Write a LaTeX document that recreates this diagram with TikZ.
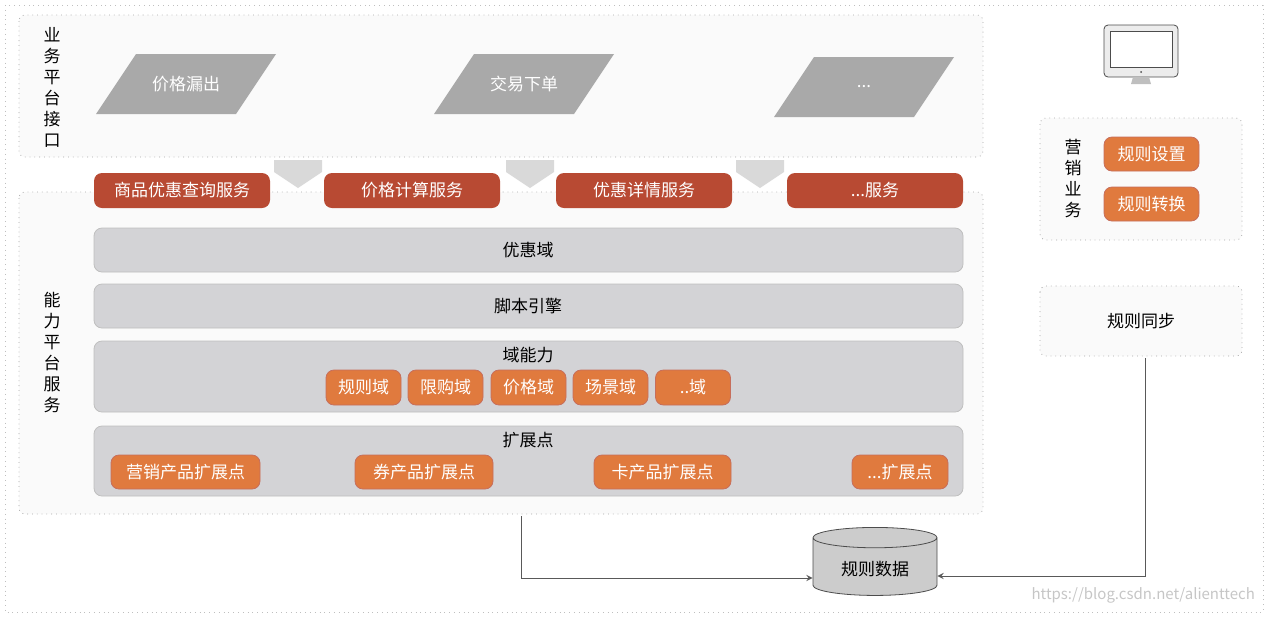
\documentclass[tikz,border=0pt]{standalone}
\usepackage{fontspec}
\setmainfont{Noto Sans CJK SC}
\usetikzlibrary{shapes.geometric, positioning}
\definecolor{svcred}{HTML}{B84A33}
\definecolor{extorg}{HTML}{E07A3E}
\definecolor{bargray}{HTML}{D3D3D6}
\definecolor{parag}{HTML}{A9A9A9}
\tikzset{
  zone/.style={draw=gray!70, dotted, rounded corners=3pt, fill=gray!4},
  svc/.style={fill=svcred, rounded corners=4pt, text=white, font=\fontsize{8.5}{10}\selectfont},
  ext/.style={fill=extorg, draw=svcred!80, rounded corners=4pt, text=white, font=\fontsize{8.5}{10}\selectfont, inner sep=0pt},
  bar/.style={fill=bargray, draw=gray!50, rounded corners=4pt},
  vlabel/.style={align=center, font=\fontsize{8.5}{10.5}\selectfont},
  entry/.style={text=white, font=\fontsize{8.5}{10}\selectfont},
  flow/.style={->, >=stealth, gray!70!black, line width=0.4pt},
}
\newcommand{\entryshape}[2]{\fill[parag] (#1-50,#2-30) -- (#1+90,#2-30) -- (#1+50,#2+30) -- (#1-90,#2+30) -- cycle;}
\begin{document}
\begin{tikzpicture}[x=0.5pt, y=-0.5pt]
    % frame
    \draw[gray!50, dotted] (5,5) rectangle (1263,612);
    \useasboundingbox (0,0) rectangle (1269,618);

    % business interface zone
    \draw[zone] (19,15) rectangle (983,157);
    \node[vlabel] (biz) at (52,87) {业\\务\\平\\台\\接\\口};
    \entryshape{186}{84}
    \node[entry] (e1) at (186,84) {价格漏出};
    \entryshape{524}{84}
    \node[entry] (e2) at (524,84) {交易下单};
    \entryshape{864}{87}
    \node[entry] (e3) at (864,87) {...};

    % capability zone
    \draw[zone] (19,192) rectangle (983,514);
    \node[vlabel] (cap) at (52,352) {能\\力\\平\\台\\服\\务};

    % arrows between zones
    \foreach \x in {298,530,760}
      \fill[gray!30] (\x-24,160) -- (\x+24,160) -- (\x+24,172) -- (\x,188) -- (\x-24,172) -- cycle;

    % services
    \node[svc, minimum width=88pt, minimum height=17.5pt] (s1) at (182,190.5) {商品优惠查询服务};
    \node[svc, minimum width=88pt, minimum height=17.5pt] (s2) at (412,190.5) {价格计算服务};
    \node[svc, minimum width=88pt, minimum height=17.5pt] (s3) at (644,190.5) {优惠详情服务};
    \node[svc, minimum width=88pt, minimum height=17.5pt] (s4) at (875,190.5) {...服务};

    % bars
    \draw[bar] (94,228) rectangle (963,272);
    \node (yh) at (528,250) {\fontsize{8.5}{10}\selectfont 优惠域};
    \draw[bar] (94,284) rectangle (963,328);
    \node (jb) at (528,306) {\fontsize{8.5}{10}\selectfont 脚本引擎};
    \draw[bar] (94,341) rectangle (963,412);
    \node (ynl) at (528,355) {\fontsize{8.5}{10}\selectfont 域能力};
    \node[ext, minimum width=37.5pt, minimum height=17.5pt] (d1) at (363.5,387.5) {规则域};
    \node[ext, minimum width=37.5pt, minimum height=17.5pt] (d2) at (445.5,387.5) {限购域};
    \node[ext, minimum width=37.5pt, minimum height=17.5pt] (d3) at (528.5,387.5) {价格域};
    \node[ext, minimum width=37.5pt, minimum height=17.5pt] (d4) at (610.5,387.5) {场景域};
    \node[ext, minimum width=37.5pt, minimum height=17.5pt] (d5) at (693,387.5) {..域};
    \draw[bar] (94,426) rectangle (963,496);
    \node (kz) at (528,440) {\fontsize{8.5}{10}\selectfont 扩展点};
    \node[ext, minimum width=74.5pt, minimum height=17pt] (k1) at (185.5,472) {营销产品扩展点};
    \node[ext, minimum width=69pt, minimum height=17pt] (k2) at (424,472) {券产品扩展点};
    \node[ext, minimum width=68.5pt, minimum height=17pt] (k3) at (662.5,472) {卡产品扩展点};
    \node[ext, minimum width=48pt, minimum height=17pt] (k4) at (900,472) {...扩展点};

    % monitor
    \draw[gray!60!black, fill=gray!15, rounded corners=2pt] (1104,25) rectangle (1178,77);
    \draw[gray!60!black, fill=white] (1110,31) rectangle (1172,67);
    \fill[gray!60!black] (1141,72) circle (1);
    \fill[gray!50] (1133,77) -- (1149,77) -- (1151,84) -- (1131,84) -- cycle;

    % marketing
    \draw[zone] (1040,118) rectangle (1242,240);
    \node[vlabel] (mk) at (1073,179) {营\\销\\业\\务};
    \node[ext, minimum width=47.5pt, minimum height=17pt] (m1) at (1151.5,154) {规则设置};
    \node[ext, minimum width=47.5pt, minimum height=17pt] (m2) at (1151.5,204) {规则转换};
    \draw[zone] (1040,286) rectangle (1242,356);
    \node (sync) at (1141,321) {\fontsize{8.5}{10}\selectfont 规则同步};
    \coordinate (syncb) at (1145,358);

    % data
    \node[cylinder, shape border rotate=90, aspect=0.25, draw=gray!60!black, fill=gray!40,
      minimum width=62pt, minimum height=34pt, font=\fontsize{8.5}{10}\selectfont] (db) at (875,569) {规则数据};
    \coordinate (capb) at (521,516);
    \draw[flow] (capb) |- (db.west |- 0,578);
    \draw[flow] (syncb) |- (db.east |- 0,576);

    \node[gray!45, anchor=south east, font=\fontsize{7.5}{9}\selectfont] (wm) at (1262,610) {https://blog.csdn.net/alienttech};
\end{tikzpicture}
\end{document}
